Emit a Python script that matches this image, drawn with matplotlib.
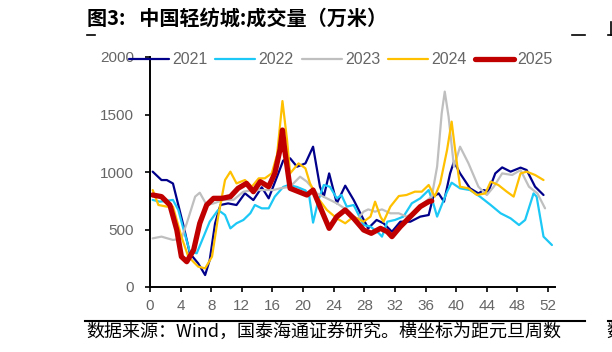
import matplotlib
matplotlib.use("Agg")
import matplotlib.pyplot as plt
from matplotlib.lines import Line2D

plt.rcParams['font.family'] = ['Liberation Sans', 'Noto Sans CJK SC', 'DejaVu Sans']

# weeks since New Year (x) and volume in 10k metres (y)
w2021 = [0.35, 1.5, 2.2, 3.0, 4.4, 5.2, 6.3, 7.2, 7.8, 8.5, 9.2, 10.2, 11.3, 12.4, 13.5, 14.6,
         15.5, 16.6, 17.4, 18.3, 19.2, 20.3, 21.3, 22.2, 22.7, 23.4, 24.4, 25.5, 26.6, 27.7,
         28.5, 29.6, 30.5, 31.6, 32.7, 34.0, 35.3, 36.4, 37.0, 37.7, 38.4, 39.2, 39.7, 40.5,
         41.8, 42.9, 43.6, 44.2, 45.1, 46.0, 47.1, 48.4, 49.2, 50.3, 51.4]
v2021 = [1003, 930, 930, 900, 525, 293, 205, 104, 235, 553, 713, 727, 713, 815, 756, 867,
         771, 960, 1100, 1119, 1046, 1075, 1220, 872, 786, 988, 728, 881, 757, 612,
         510, 583, 554, 481, 568, 568, 612, 626, 786, 814, 742, 988, 1090, 988,
         858, 814, 843, 829, 988, 1040, 1003, 1038, 1017, 872, 800]

w2022 = [0.35, 1.3, 3.0, 3.7, 4.4, 5.2, 6.1, 7.0, 7.8, 8.9, 9.8, 10.5, 11.3, 12.2, 13.1, 13.7,
         14.6, 15.5, 16.3, 17.4, 18.1, 19.2, 20.3, 20.8, 21.3, 22.0, 22.7, 23.5, 24.4, 25.0,
         25.7, 26.6, 27.9, 28.8, 29.9, 30.3, 31.0, 32.0, 33.1, 34.2, 35.3, 36.4, 37.0, 37.5,
         38.1, 38.8, 39.4, 40.5, 41.8, 43.1, 44.5, 45.8, 47.1, 48.2, 49.0, 50.1, 50.5, 51.4, 52.5]
v2022 = [757, 742, 757, 670, 496, 307, 293, 438, 568, 670, 626, 510, 554, 583, 641, 713,
         684, 684, 786, 870, 887, 870, 840, 790, 560, 757, 887, 872, 771, 800,
         699, 713, 539, 525, 467, 438, 568, 583, 612, 728, 771, 843, 728, 612,
         713, 829, 907, 858, 843, 786, 713, 641, 597, 539, 583, 814, 786, 438, 365]

w2023 = [0.35, 1.5, 3.0, 4.1, 4.8, 5.9, 6.5, 7.4, 8.3, 9.6, 10.9, 12.2, 13.5, 14.8, 16.1, 17.0,
         18.3, 19.6, 20.5, 21.8, 23.1, 24.4, 25.7, 27.0, 27.9, 28.5, 29.4, 30.3, 31.4, 32.5,
         33.5, 34.4, 35.7, 36.8, 37.5, 38.1, 38.5, 39.0, 39.7, 40.5, 41.6, 42.9, 44.0, 44.9,
         46.0, 47.3, 48.4, 49.5, 50.6, 51.6]
v2023 = [423, 438, 409, 420, 554, 786, 820, 713, 727, 757, 757, 829, 843, 843, 843, 858,
         872, 959, 916, 814, 771, 728, 670, 583, 655, 675, 655, 675, 641, 641,
         612, 641, 728, 786, 1046, 1510, 1699, 1481, 1046, 1220, 1075, 872, 800, 872,
         988, 974, 1017, 872, 814, 684]

w2024 = [0.35, 1.1, 2.2, 3.0, 4.1, 5.0, 6.3, 7.2, 8.1, 8.9, 9.8, 10.5, 11.3, 12.4, 13.3, 14.2,
         15.0, 15.9, 16.6, 17.3, 17.9, 18.3, 19.4, 20.3, 20.9, 21.8, 23.1, 24.4, 25.5, 26.6,
         27.9, 28.8, 29.4, 30.1, 30.5, 31.4, 32.5, 33.5, 34.6, 35.5, 36.4, 37.2, 37.9, 38.8,
         39.4, 39.8, 40.5, 41.6, 42.7, 43.8, 44.5, 45.5, 46.6, 47.5, 48.4, 49.2, 50.3, 51.4]
v2024 = [843, 713, 699, 699, 438, 264, 177, 162, 264, 612, 930, 1003, 901, 930, 872, 945,
         945, 988, 1150, 1617, 1278, 988, 1075, 1032, 901, 786, 670, 597, 554, 612,
         568, 612, 742, 612, 568, 699, 791, 800, 829, 829, 887, 786, 901, 1191,
         1438, 1220, 872, 858, 800, 814, 916, 887, 829, 786, 988, 1003, 974, 930]

w2025 = [0.35, 1.5, 2.6, 3.5, 4.1, 4.8, 5.7, 6.5, 7.4, 8.3, 9.4, 10.5, 11.5, 12.6, 13.5, 14.4,
         15.5, 16.3, 17.0, 17.3, 17.6, 18.3, 19.4, 20.5, 21.3, 22.2, 23.4, 24.4, 25.5, 26.6,
         27.9, 28.9, 30.1, 31.0, 31.6, 32.7, 34.0, 35.3, 36.4, 36.8]
v2025 = [800, 786, 713, 496, 264, 220, 322, 554, 713, 771, 771, 786, 858, 901, 829, 916,
         872, 988, 1200, 1365, 1191, 858, 829, 800, 843, 699, 510, 612, 670, 597,
         496, 467, 510, 481, 438, 525, 612, 699, 742, 748]

series = [
    ("2021", w2021, v2021, "#00008B", 1.6),
    ("2022", w2022, v2022, "#1CC8F5", 1.6),
    ("2023", w2023, v2023, "#BFBFBF", 1.6),
    ("2024", w2024, v2024, "#FFC000", 1.6),
    ("2025", w2025, v2025, "#C00000", 3.8),
]
xticks = list(range(0, 53, 4))
yticks = [0, 500, 1000, 1500, 2000]

fig = plt.figure(figsize=(6.12, 3.52), dpi=100)
ax = fig.add_axes([150 / 612, 1 - 287 / 352, 405 / 612, 230 / 352])

for name, x, y, c, lw in series:
    ax.plot(x, y, color=c, lw=lw, label=name, solid_capstyle='round', solid_joinstyle='round')

ax.set_xlim(0, 52.9)
ax.set_ylim(0, 2000)
ax.set_xticks(xticks)
ax.set_yticks(yticks)
for s in ['top', 'right']:
    ax.spines[s].set_visible(False)
for s in ['left', 'bottom']:
    ax.spines[s].set_linewidth(1.4)
ax.tick_params(axis='both', direction='out', length=3.5, width=1.2, colors='black',
               labelcolor='#666666', labelsize=11)
ax.tick_params(axis='y', pad=8)
ax.tick_params(axis='x', pad=5)

fig.legend(loc='center', bbox_to_anchor=(341 / 612, 1 - 60 / 352), ncol=5, frameon=False,
           fontsize=11.5, labelcolor='#666666', handlelength=2.5, handletextpad=0.2,
           columnspacing=0.5, borderaxespad=0)

# title and source note
fig.text(87 / 612, 1 - 18 / 352, "图3:   中国轻纺城:成交量（万米）", fontsize=14.5, fontweight='bold',
         family=['Noto Sans CJK SC', 'DejaVu Sans'], va='center', ha='left')
fig.text(86 / 612, 1 - 332 / 352, "数据来源：Wind，国泰海通证券研究。横坐标为距元旦周数", fontsize=13,
         family=['Noto Sans CJK SC', 'DejaVu Sans'], va='center', ha='left')
fig.text(606 / 612, 1 - 332 / 352, "数", fontsize=13,
         family=['Noto Sans CJK SC', 'DejaVu Sans'], va='center', ha='left')

# page rules
fig.add_artist(Line2D([85 / 612, 585 / 612], [1 - 321 / 352] * 2, color='black', lw=1.5))
fig.add_artist(Line2D([608 / 612, 1.0], [1 - 321 / 352] * 2, color='black', lw=1.5))
fig.add_artist(Line2D([87 / 612, 95 / 612], [1 - 35 / 352] * 2, color='black', lw=1.2))
fig.add_artist(Line2D([572 / 612, 585 / 612], [1 - 35 / 352] * 2, color='black', lw=1.2))
fig.add_artist(Line2D([608 / 612, 1.0], [1 - 35 / 352] * 2, color='black', lw=1.2))
fig.add_artist(Line2D([611 / 612, 611 / 612], [1 - 22 / 352, 1 - 35 / 352], color='black', lw=1.2))

fig.savefig("out.png", dpi=100)
